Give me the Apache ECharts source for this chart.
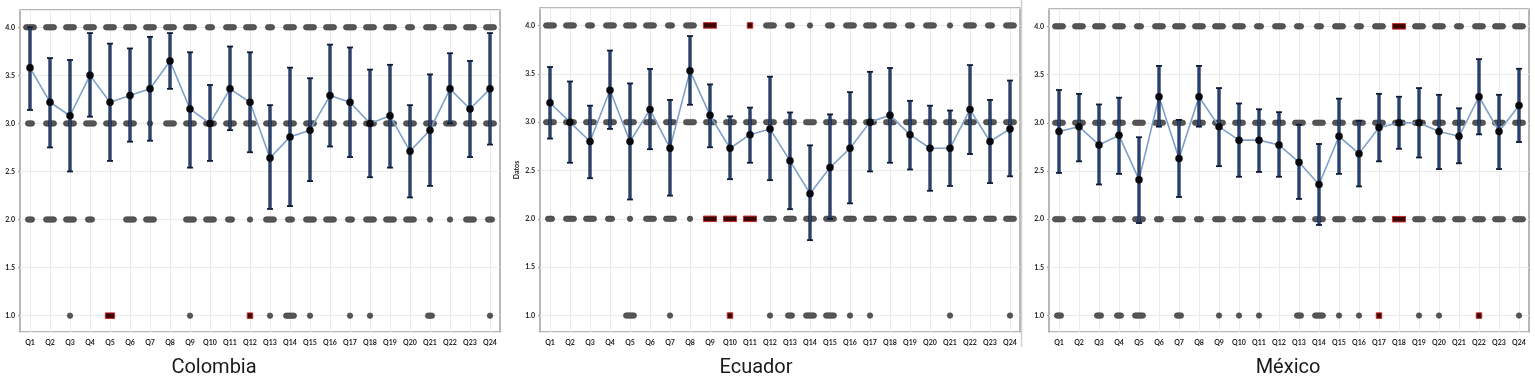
<!DOCTYPE html>
<html>
<head>
<meta charset="utf-8">
<script src="https://cdn.jsdelivr.net/npm/echarts@6/dist/echarts.min.js"></script>
<style>
  html, body { margin: 0; padding: 0; background: #fff; }
  #main { width: 1535px; height: 380px; }
</style>
</head>
<body>
<div id="main"></div>
<script>
var cats = ['Q1','Q2','Q3','Q4','Q5','Q6','Q7','Q8','Q9','Q10','Q11','Q12','Q13','Q14','Q15','Q16','Q17','Q18','Q19','Q20','Q21','Q22','Q23','Q24']
var levels = [4, 3, 2, 1]

// Colombia: media e intervalo
var colMean = [3.58,3.22,3.08,3.50,3.22,3.29,3.36,3.65,3.15,3.00,3.36,3.22,2.64,2.86,2.93,3.29,3.22,3.00,3.08,2.71,2.93,3.36,3.15,3.36]
var colLow  = [3.14,2.75,2.50,3.07,2.61,2.81,2.82,3.36,2.54,2.61,2.93,2.70,2.11,2.14,2.40,2.76,2.65,2.44,2.54,2.23,2.35,3.00,2.65,2.78]
var colHigh = [4.00,3.68,3.66,3.94,3.83,3.78,3.90,3.94,3.74,3.40,3.80,3.74,3.19,3.58,3.47,3.82,3.79,3.56,3.61,3.19,3.51,3.73,3.65,3.94]
// respuestas por nivel (4,3,2,1): tamaño del grupo de puntos
var colL4 = [3,3,3,3,3,3,3,3,3,2,3,3,2,3,3,3,3,3,3,2,3,3,3,3]
var colL3 = [2,3,3,3,3,3,1,3,3,3,3,3,3,3,3,3,3,3,3,3,3,3,3,3]
var colL2 = [2,3,3,2,0,3,3,0,3,3,2,1,3,2,3,3,2,3,3,3,1,1,3,2]
var colL1 = [0,0,1,0,0,0,0,0,1,0,0,0,1,3,1,0,1,1,0,0,2,0,0,1]
var colOut = [[4,1,2],[11,1,1]]

// Ecuador
var ecuMean = [3.20,3.00,2.80,3.33,2.80,3.13,2.73,3.53,3.07,2.73,2.87,2.93,2.60,2.26,2.53,2.73,3.00,3.07,2.87,2.73,2.73,3.13,2.80,2.93]
var ecuLow  = [2.83,2.58,2.42,2.93,2.20,2.72,2.24,3.18,2.74,2.41,2.58,2.40,2.10,1.78,2.00,2.16,2.49,2.58,2.51,2.29,2.34,2.67,2.37,2.44]
var ecuHigh = [3.57,3.42,3.17,3.74,3.40,3.55,3.23,3.89,3.39,3.06,3.15,3.47,3.10,2.76,3.08,3.31,3.52,3.56,3.22,3.17,3.12,3.59,3.23,3.43]
var ecuL4 = [3,3,2,3,3,3,2,3,0,0,0,3,2,1,2,3,3,3,2,3,1,3,2,3]
var ecuL3 = [3,3,3,3,3,3,3,3,3,3,3,3,3,3,3,3,3,3,3,3,3,3,3,3]
var ecuL2 = [2,3,3,2,1,3,3,1,0,0,0,3,3,3,3,3,3,3,3,3,3,3,3,3]
var ecuL1 = [0,0,0,0,3,0,1,0,0,0,0,1,2,3,3,1,1,0,0,0,1,0,0,1]
var ecuOut = [[8,4,3],[10,4,1],[8,2,3],[9,2,3],[10,2,3],[9,1,1]]

// México
var mexMean = [2.91,2.96,2.77,2.87,2.41,3.27,2.63,3.27,2.96,2.82,2.82,2.77,2.59,2.36,2.86,2.68,2.95,3.00,3.00,2.91,2.86,3.27,2.91,3.18]
var mexLow  = [2.48,2.60,2.36,2.47,1.96,2.96,2.23,2.96,2.55,2.44,2.49,2.44,2.21,1.94,2.47,2.34,2.60,2.73,2.64,2.52,2.58,2.88,2.52,2.80]
var mexHigh = [3.34,3.30,3.19,3.26,2.85,3.59,3.03,3.59,3.36,3.20,3.14,3.11,2.98,2.78,3.25,3.02,3.30,3.27,3.36,3.29,3.15,3.66,3.29,3.56]
var mexL4 = [3,3,3,3,2,3,3,3,3,3,2,3,2,2,3,2,3,0,3,3,2,3,3,3]
var mexL3 = [3,3,3,3,3,3,3,3,3,3,3,3,3,3,3,3,3,3,3,3,3,3,3,3]
var mexL2 = [3,3,3,3,3,2,3,2,3,3,3,3,3,3,3,3,3,0,3,3,3,3,3,3]
var mexL1 = [2,0,2,2,3,0,2,0,1,1,1,0,2,3,1,1,0,0,1,1,0,0,0,1]
var mexOut = [[17,4,3],[17,2,3],[16,1,1],[21,1,1]]

var panels = [
  { name: 'Colombia', mean: colMean, low: colLow, high: colHigh, dots: [colL4, colL3, colL2, colL1], out: colOut,
    left: 20, top: 10, height: 322, titleX: 214, yName: '' },
  { name: 'Ecuador', mean: ecuMean, low: ecuLow, high: ecuHigh, dots: [ecuL4, ecuL3, ecuL2, ecuL1], out: ecuOut,
    left: 540, top: 8, height: 324, titleX: 756, yName: 'Datos' },
  { name: 'México', mean: mexMean, low: mexLow, high: mexHigh, dots: [mexL4, mexL3, mexL2, mexL1], out: mexOut,
    left: 1049, top: 9, height: 323, titleX: 1288, yName: '' }
]

var DOT = 5.5, STEP = 3.8
var labelFont = 'Lato'

function renderDots(params, api) {
  var p = api.coord([api.value(0), api.value(1)])
  var n = api.value(2)
  var w = DOT + (n - 1) * STEP
  return {
    type: 'rect',
    shape: { x: p[0] - w / 2, y: p[1] - DOT / 2, width: w, height: DOT, r: DOT / 2 },
    style: { fill: '#555', stroke: '#3d3d3d', lineWidth: 0.6 }
  }
}

function renderOut(params, api) {
  var p = api.coord([api.value(0), api.value(1)])
  var n = api.value(2)
  var w = DOT + (n - 1) * STEP
  return {
    type: 'rect',
    shape: { x: p[0] - w / 2, y: p[1] - DOT / 2, width: w, height: DOT },
    style: { fill: '#3a0606', stroke: '#c4282a', lineWidth: 1 }
  }
}

function renderBar(params, api) {
  var x = api.value(0)
  var lo = api.coord([x, api.value(1)])
  var hi = api.coord([x, api.value(2)])
  var cw = 3
  return {
    type: 'group',
    children: [
      { type: 'line', shape: { x1: lo[0], y1: lo[1], x2: hi[0], y2: hi[1] }, style: { stroke: '#0e1c38', lineWidth: 3.2 } },
      { type: 'line', shape: { x1: lo[0], y1: lo[1], x2: hi[0], y2: hi[1] }, style: { stroke: '#2d5392', lineWidth: 1.4 } },
      { type: 'line', shape: { x1: hi[0] - cw, y1: hi[1], x2: hi[0] + cw, y2: hi[1] }, style: { stroke: '#0e1c38', lineWidth: 1.8 } },
      { type: 'line', shape: { x1: lo[0] - cw, y1: lo[1], x2: lo[0] + cw, y2: lo[1] }, style: { stroke: '#0e1c38', lineWidth: 1.8 } }
    ]
  }
}

var grids = [], xAxes = [], yAxes = [], series = [], graphics = []

panels.forEach(function (pn, i) {
  grids.push({ left: pn.left, top: pn.top, width: 480, height: pn.height, show: true,
    borderColor: '#a0a0a0', borderWidth: 1.5, backgroundColor: 'transparent' })
  xAxes.push({
    type: 'category', gridIndex: i, data: cats, boundaryGap: true,
    axisLine: { show: false }, axisTick: { show: false },
    splitLine: { show: true, alignWithLabel: true, lineStyle: { color: '#ebebeb', width: 1 } },
    axisLabel: { interval: 0, fontSize: 7, fontWeight: 'bold', color: '#222', margin: 7, fontFamily: labelFont }
  })
  yAxes.push({
    type: 'value', gridIndex: i, min: 0.83, max: 4.18, splitNumber: 7,
    name: pn.yName, nameLocation: 'middle', nameGap: 20,
    nameTextStyle: { fontSize: 7, fontWeight: 'bold', color: '#222', fontFamily: labelFont },
    axisLine: { show: false },
    axisTick: { show: true, length: 2, lineStyle: { color: '#999' } },
    splitLine: { show: true, lineStyle: { color: '#ebebeb', width: 1 } },
    axisLabel: { showMinLabel: false, showMaxLabel: false, fontSize: 7, fontWeight: 'bold', color: '#222',
      margin: 5, fontFamily: labelFont, formatter: function (v) { return v.toFixed(1) } }
  })

  var dotData = []
  pn.dots.forEach(function (arr, k) {
    arr.forEach(function (n, j) { if (n > 0) dotData.push([j, levels[k], n]) })
  })
  series.push({ type: 'custom', xAxisIndex: i, yAxisIndex: i, renderItem: renderDots, data: dotData, z: 1, silent: true })
  series.push({ type: 'custom', xAxisIndex: i, yAxisIndex: i, renderItem: renderOut, data: pn.out, z: 1, silent: true })
  series.push({ type: 'line', xAxisIndex: i, yAxisIndex: i, data: pn.mean, symbol: 'none', z: 2,
    lineStyle: { color: '#7ea0c9', width: 1.6 } })
  var barData = pn.mean.map(function (m, j) { return [j, pn.low[j], pn.high[j]] })
  series.push({ type: 'custom', xAxisIndex: i, yAxisIndex: i, renderItem: renderBar, data: barData, z: 3,
    encode: { x: 0, y: [1, 2] }, silent: true })
  series.push({ type: 'scatter', xAxisIndex: i, yAxisIndex: i, data: pn.mean, symbol: 'circle', symbolSize: 7.5, z: 4,
    itemStyle: { color: '#08080f', opacity: 1 } })

  graphics.push({ type: 'text', x: pn.titleX, y: 368,
    style: { text: pn.name, fontSize: 20, fontFamily: 'Roboto', fill: '#1a1a1a', align: 'center', verticalAlign: 'middle' } })
})

graphics.push({ type: 'line', shape: { x1: 1021.5, y1: 0, x2: 1021.5, y2: 347 }, style: { stroke: '#cfcfcf', lineWidth: 1.5 } })

var chart = echarts.init(document.getElementById('main'))
chart.setOption({
  animation: false,
  backgroundColor: '#fff',
  grid: grids,
  xAxis: xAxes,
  yAxis: yAxes,
  series: series,
  graphic: graphics
})
</script>
</body>
</html>
